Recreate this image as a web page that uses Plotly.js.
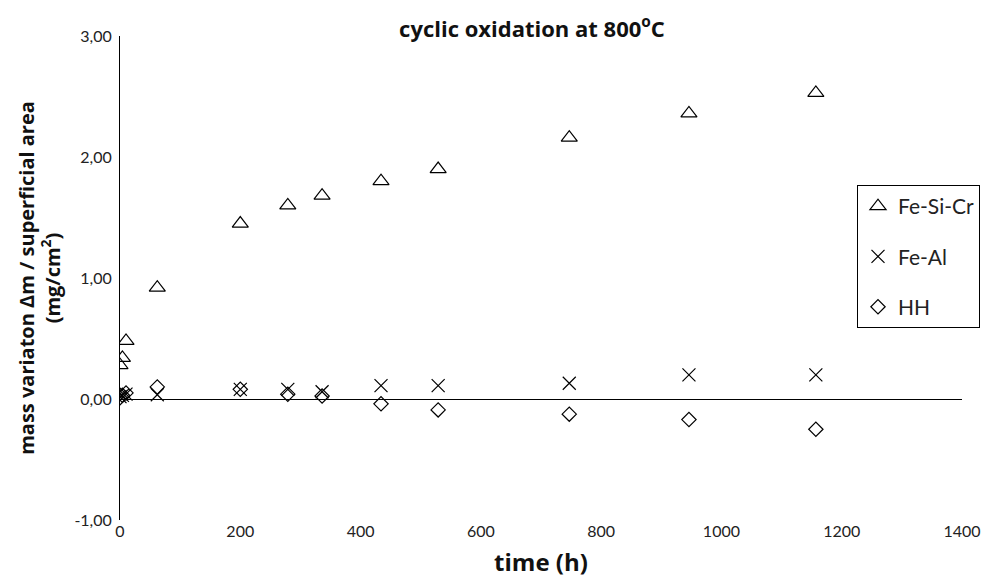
<!DOCTYPE html>
<html>
<head>
<meta charset="utf-8">
<script src="https://cdn.plot.ly/plotly-3.0.1.min.js"></script>
<style>html,body{margin:0;padding:0;background:#fff;}#chart{width:993px;height:578px;}</style>
</head>
<body>
<div id="chart"></div>
<script>
// time (h)
const timeFeSiCr = [0, 4, 10, 62, 200, 279, 336, 434, 529, 747, 946, 1157];
const massFeSiCr = [0.28, 0.34, 0.48, 0.92, 1.45, 1.60, 1.68, 1.80, 1.90, 2.16, 2.36, 2.53];

const timeFeAl = [0, 4, 10, 62, 200, 279, 336, 434, 529, 747, 946, 1157];
const massFeAl = [0.02, 0.03, 0.04, 0.035, 0.08, 0.08, 0.06, 0.11, 0.11, 0.13, 0.20, 0.20];

const timeHH = [0, 4, 10, 62, 200, 279, 336, 434, 529, 747, 946, 1157];
const massHH = [0.01, 0.03, 0.05, 0.10, 0.08, 0.04, 0.025, -0.04, -0.09, -0.125, -0.17, -0.25];

const seriesNames = ["Fe-Si-Cr", "Fe-Al", "HH"];
const xTicks = [0, 200, 400, 600, 800, 1000, 1200, 1400];
const yTicks = [-1, 0, 1, 2, 3];
const yTickLabels = ["-1,00", "0,00", "1,00", "2,00", "3,00"];

const FONT = "Lato, 'Open Sans', 'Liberation Sans', sans-serif";
const BFONT = "'Open Sans', Lato, 'Liberation Sans', sans-serif";

const traces = [
  {
    x: timeFeSiCr, y: massFeSiCr, name: seriesNames[0], type: "scatter", mode: "markers",
    legendgroup: "a",
    marker: {symbol: "triangle-up-open", size: 14, color: "#000", line: {color: "#000", width: 1.2}}
  },
  {
    x: timeFeAl, y: massFeAl, name: seriesNames[1], type: "scatter", mode: "markers",
    legendgroup: "b",
    marker: {symbol: "x-thin-open", size: 13, color: "#000", line: {color: "#000", width: 1.2}}
  },
  {
    x: timeHH, y: massHH, name: seriesNames[2], type: "scatter", mode: "markers",
    legendgroup: "c",
    marker: {symbol: "diamond-open", size: 11, color: "#000", line: {color: "#000", width: 1.2}}
  }
];

const layout = {
  width: 993, height: 578,
  margin: {l: 120, r: 31, t: 36, b: 58},
  paper_bgcolor: "#fff", plot_bgcolor: "#fff",
  font: {family: FONT, color: "#222"},
  showlegend: true,
  title: {
    text: "<b>cyclic oxidation at 800<sup>o</sup>C</b>",
    font: {family: BFONT, size: 22, color: "#111"},
    x: 532/993, xanchor: "center", y: 1 - 29/578, yanchor: "middle"
  },
  xaxis: {
    range: [0, 1400], tickvals: xTicks, ticktext: xTicks.map(String),
    showgrid: false, zeroline: false, showline: false, ticks: "",
    tickfont: {family: FONT, size: 16, color: "#222"},
    title: {text: "<b>time (h)</b>", font: {family: BFONT, size: 24, color: "#111"}, standoff: 18}
  },
  yaxis: {
    range: [-1, 3], tickvals: yTicks, ticktext: yTickLabels,
    showgrid: false, zeroline: true, zerolinecolor: "#000", zerolinewidth: 1,
    showline: true, linecolor: "#000", linewidth: 1, ticks: "",
    ticklabelstandoff: 4,
    tickfont: {family: FONT, size: 16, color: "#222"},
    title: {text: "<b>mass variaton \u0394m / superficial area<br>(mg/cm<sup>2</sup>)</b>", font: {family: BFONT, size: 20, color: "#111"}, standoff: 8}
  },
  legend: {
    x: (857-120)/842, y: (520-185)/484, xanchor: "left", yanchor: "top",
    bordercolor: "#000", borderwidth: 1, bgcolor: "#fff",
    font: {family: FONT, size: 21, color: "#222"},
    tracegroupgap: 20, itemwidth: 30
  }
};

Plotly.newPlot("chart", traces, layout, {displayModeBar: false, staticPlot: true});
</script>
</body>
</html>
